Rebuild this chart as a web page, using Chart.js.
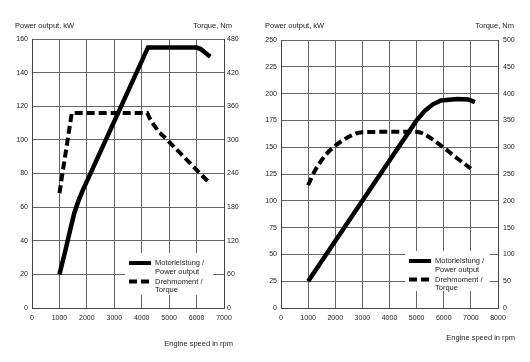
<!DOCTYPE html>
<html lang="de">
<head>
<meta charset="UTF-8">
<title>Leistung und Drehmoment</title>
<script src="https://cdn.jsdelivr.net/npm/chart.js"></script>
<style>
    body { margin: 0; background: #fff; }
    .wrap { position: relative; width: 530px; height: 362px; }
    canvas { position: absolute; top: 0; }
    #left { left: 0; }
    #right { left: 265px; }
</style>
</head>
<body>
<div class="wrap">
    <canvas id="left" width="265" height="362"></canvas>
    <canvas id="right" width="265" height="362"></canvas>
</div>
<script>
// --- Daten: linkes Diagramm ---
const leftPowerRpm = [1000, 1200, 1400, 1550, 1700, 1850, 2000, 4230, 6000, 6150, 6500];
const leftPowerKw  = [20, 33, 47, 57, 64, 70, 75.3, 155, 155, 154, 149.5];
const leftTorqueRpm = [1000, 1450, 4200, 4300, 4450, 4650, 4930, 6130, 6500];
const leftTorqueNm  = [205, 348, 348, 338, 326, 313, 300, 240, 222];
const leftRpmRange = [0, 7000, 1000];
const leftKwRange  = [0, 160, 20];
const leftNmRange  = [0, 480, 60];

// --- Daten: rechtes Diagramm ---
const rightPowerRpm = [1000, 2000, 3000, 4000, 5000, 5300, 5600, 5900, 6500, 6900, 7150];
const rightPowerKw  = [25, 62.5, 100, 137.5, 175, 184, 190, 193.5, 195, 194.5, 192];
const rightTorqueRpm = [1000, 1250, 1690, 2115, 2730, 3000, 5000, 5300, 5600, 6000, 6500, 7000];
const rightTorqueNm  = [229, 256, 288, 307, 325, 328, 329, 324, 314, 299, 279, 260];
const rightRpmRange = [0, 8000, 1000];
const rightKwRange  = [0, 250, 25];
const rightNmRange  = [0, 500, 50];

// --- Texte ---
const powerLabel  = ['Motorleistung /', 'Power output'];
const torqueLabel = ['Drehmoment /', 'Torque'];
const titleLeft   = 'Power output, kW';
const titleRight  = 'Torque, Nm';
const titleBottom = 'Engine speed in rpm';

const FONT = '"Liberation Sans", Arial, sans-serif';
const TXT = '#222';
const GRID = '#666';

const pts = (xs, ys) => xs.map((x, i) => ({ x: x, y: ys[i] }));

// Achsentitel und Legende im Diagrammfeld
const chartText = {
    id: 'chartText',
    afterDraw(chart, args, o) {
        const ctx = chart.ctx;
        ctx.save();
        ctx.fillStyle = TXT;
        ctx.font = '7.5px ' + FONT;
        ctx.textBaseline = 'middle';
        ctx.textAlign = 'left';
        ctx.fillText(titleLeft, o.tl[0], o.tl[1]);
        ctx.textAlign = 'right';
        ctx.fillText(titleRight, o.tr[0], o.tr[1]);
        ctx.fillText(titleBottom, o.tb[0], o.tb[1]);

        const b = o.box;
        ctx.fillStyle = '#fff';
        ctx.fillRect(b.x, b.y, b.w, b.h);
        const rows = [10, 28.5];
        chart.data.datasets.forEach((ds, i) => {
            const y = b.y + rows[i];
            ctx.beginPath();
            ctx.lineWidth = 4;
            ctx.strokeStyle = '#000';
            ctx.setLineDash(ds.borderDash || []);
            ctx.lineCap = 'butt';
            ctx.moveTo(b.x + 4, y);
            ctx.lineTo(b.x + 26, y);
            ctx.stroke();
            ctx.setLineDash([]);
            ctx.fillStyle = TXT;
            ctx.textAlign = 'left';
            ds.label.forEach((t, k) => ctx.fillText(t, b.x + 30, y + k * 8.5));
        });
        ctx.restore();
    }
};

function makeChart(id, d) {
    return new Chart(document.getElementById(id), {
        type: 'line',
        data: {
            datasets: [
                { label: powerLabel, data: pts(d.pRpm, d.pKw), yAxisID: 'y', borderColor: '#000', borderWidth: 4.5,
                  tension: 0, pointRadius: 0, borderJoinStyle: 'miter', borderCapStyle: 'butt' },
                { label: torqueLabel, data: pts(d.tRpm, d.tNm), yAxisID: 'y2', borderColor: '#000', borderWidth: 4,
                  borderDash: [8, 4], cubicInterpolationMode: d.smooth ? 'monotone' : 'default', tension: 0,
                  pointRadius: 0, borderCapStyle: 'butt', borderJoinStyle: 'miter' }
            ]
        },
        options: {
            responsive: false,
            animation: false,
            layout: { padding: { top: d.top, left: 0, right: 0, bottom: 0 } },
            plugins: { legend: { display: false }, tooltip: { enabled: false }, chartText: d.text },
            scales: {
                x: {
                    type: 'linear', min: d.rpm[0], max: d.rpm[1],
                    ticks: { stepSize: d.rpm[2], color: TXT, font: { family: FONT, size: 7 }, padding: 6, maxRotation: 0,
                             callback: v => String(v) },
                    grid: { color: GRID, drawTicks: false },
                    border: { color: '#444' },
                    afterFit: s => { s.height = 54; }
                },
                y: {
                    position: 'left', min: d.kw[0], max: d.kw[1],
                    ticks: { stepSize: d.kw[2], color: TXT, font: { family: FONT, size: 7 }, padding: 4 },
                    grid: { color: GRID, drawTicks: false },
                    border: { color: '#444' },
                    afterFit: s => { s.width = d.yw; }
                },
                y2: {
                    position: 'right', min: d.nm[0], max: d.nm[1],
                    ticks: { stepSize: d.nm[2], color: TXT, font: { family: FONT, size: 7 }, padding: d.y2pad },
                    grid: { display: false, drawTicks: false },
                    border: { color: '#444' },
                    afterFit: s => { s.width = d.y2w; }
                }
            }
        },
        plugins: [chartText]
    });
}

makeChart('left', {
    pRpm: leftPowerRpm, pKw: leftPowerKw, tRpm: leftTorqueRpm, tNm: leftTorqueNm,
    rpm: leftRpmRange, kw: leftKwRange, nm: leftNmRange, smooth: false,
    top: 39, yw: 32, y2w: 41, y2pad: 3,
    text: { tl: [15, 25.5], tr: [232, 25.5], tb: [233, 344], box: { x: 125, y: 253, w: 88, h: 42 } }
});

makeChart('right', {
    pRpm: rightPowerRpm, pKw: rightPowerKw, tRpm: rightTorqueRpm, tNm: rightTorqueNm,
    rpm: rightRpmRange, kw: rightKwRange, nm: rightNmRange, smooth: true,
    top: 40, yw: 16, y2w: 32, y2pad: 5,
    text: { tl: [0, 26], tr: [249, 26], tb: [250, 338], box: { x: 140, y: 251, w: 85, h: 40 } }
});
</script>
</body>
</html>
